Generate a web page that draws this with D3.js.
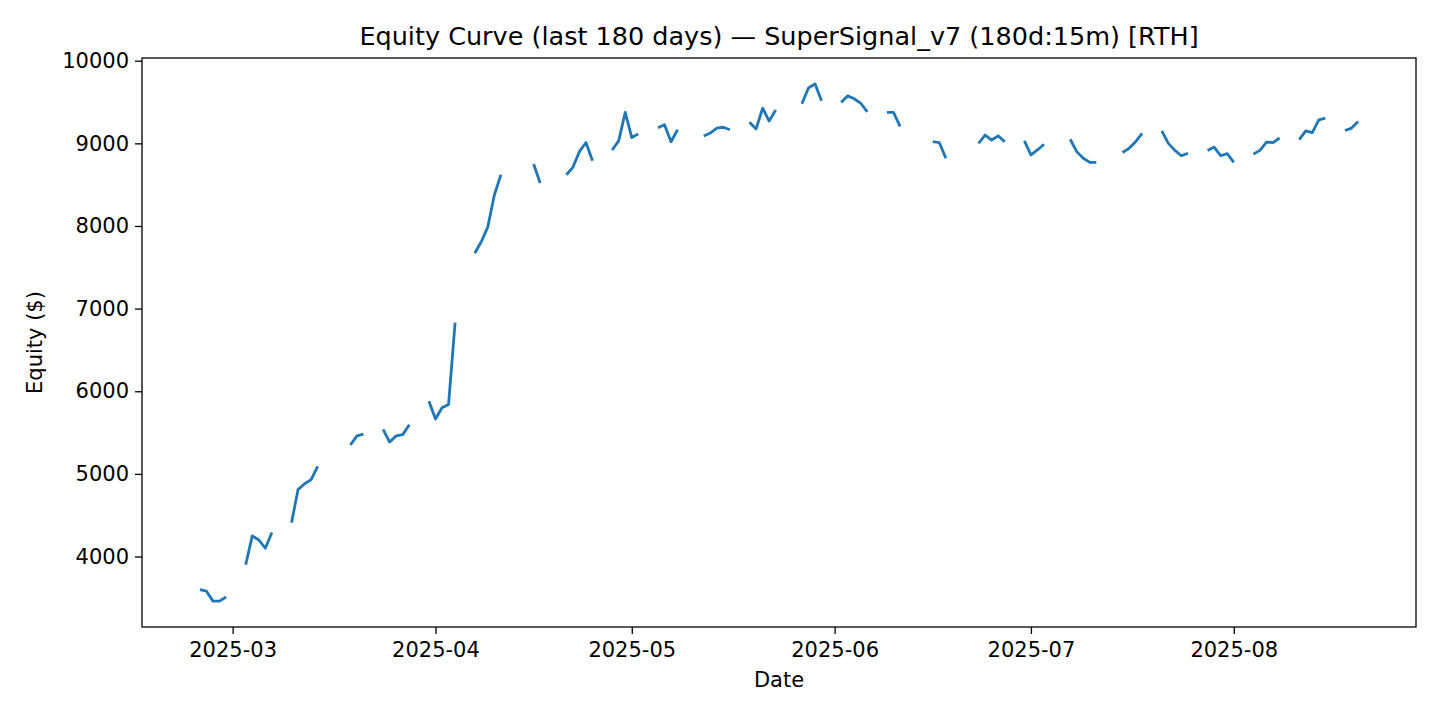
<!DOCTYPE html>
<html>
<head>
<meta charset="utf-8">
<script src="https://cdn.jsdelivr.net/npm/d3@7"></script>
<style>
  body { margin: 0; background: #fff; }
  text { font-family: "DejaVu Sans", sans-serif; }
</style>
</head>
<body>
<svg id="chart" width="1440" height="720"></svg>
<script>
// each run of trading days starts on segStarts[i] and holds segValues[i] (one value per weekday)
var segStarts = ["2025-02-24","2025-03-03","2025-03-10","2025-03-19","2025-03-24","2025-03-31","2025-04-07",
  "2025-04-16","2025-04-21","2025-04-28","2025-05-05","2025-05-12","2025-05-19","2025-05-27","2025-06-02",
  "2025-06-09","2025-06-16","2025-06-23","2025-06-30","2025-07-07","2025-07-15","2025-07-21","2025-07-28",
  "2025-08-04","2025-08-11","2025-08-18"];
var segValues = [
  [3600, 3580, 3460, 3460, 3510],
  [3900, 4250, 4200, 4100, 4290],
  [4410, 4810, 4880, 4930, 5090],
  [5350, 5460, 5480],
  [5540, 5385, 5460, 5475, 5595],
  [5880, 5665, 5800, 5840, 6830],
  [7670, 7810, 7990, 8375, 8620],
  [8750, 8520],
  [8620, 8710, 8900, 9010, 8790],
  [8920, 9030, 9375, 9070, 9115],
  [9190, 9225, 9020, 9165],
  [9090, 9125, 9185, 9195, 9165],
  [9255, 9175, 9425, 9270, 9405],
  [9480, 9670, 9720, 9515],
  [9495, 9575, 9540, 9485, 9380],
  [9375, 9375, 9205],
  [9020, 9010, 8820],
  [9000, 9100, 9040, 9090, 9020],
  [9030, 8860, 8920, 8990],
  [9050, 8900, 8820, 8770, 8770],
  [8890, 8940, 9020, 9120],
  [9150, 9000, 8915, 8850, 8880],
  [8915, 8955, 8850, 8875, 8770],
  [8870, 8915, 9015, 9010, 9065],
  [9045, 9150, 9130, 9285, 9305],
  [9155, 9185, 9265]
];
var yTicks = [4000, 5000, 6000, 7000, 8000, 9000, 10000];
var xTicks = ["2025-03-01","2025-04-01","2025-05-01","2025-06-01","2025-07-01","2025-08-01"];

var parse = d3.utcParse("%Y-%m-%d");
var byDay = new Map();
segStarts.forEach(function(s, i){
  segValues[i].forEach(function(v, j){
    byDay.set(+d3.utcDay.offset(parse(s), j), v);
  });
});
var first = parse(segStarts[0]);
var last = d3.max(Array.from(byDay.keys()));
var data = d3.utcDay.range(first, d3.utcDay.offset(new Date(last), 1)).map(function(d){
  return {date: d, value: byDay.has(+d) ? byDay.get(+d) : null};
});

var margin = {left: 142, right: 24, top: 58, bottom: 93};
var W = 1440, H = 720;
var svg = d3.select("#chart");

var span = last - first;
var x = d3.scaleUtc().domain([+first - span*0.05, +last + span*0.05]).range([margin.left, W - margin.right]);
var vmin = 3460, vmax = 9720, pad = (vmax - vmin)*0.05;
var y = d3.scaleLinear().domain([vmin - pad, vmax + pad]).range([H - margin.bottom, margin.top]);

var line = d3.line().defined(function(d){ return d.value !== null; })
  .x(function(d){ return x(d.date); }).y(function(d){ return y(d.value); });

svg.append("path").datum(data).attr("d", line)
  .attr("fill", "none").attr("stroke", "#1f77b4").attr("stroke-width", 2.8)
  .attr("stroke-linejoin", "round").attr("stroke-linecap", "butt");

var xAxis = svg.append("g").attr("transform", "translate(0," + (H - margin.bottom) + ")")
  .call(d3.axisBottom(x).tickValues(xTicks.map(parse)).tickFormat(d3.utcFormat("%Y-%m")).tickSizeOuter(0).tickSize(7).tickPadding(8));
var yAxis = svg.append("g").attr("transform", "translate(" + margin.left + ",0)")
  .call(d3.axisLeft(y).tickValues(yTicks).tickFormat(d3.format("d")).tickSizeOuter(0).tickSize(7).tickPadding(6));
[xAxis, yAxis].forEach(function(g){
  g.select(".domain").remove();
  g.selectAll("text").attr("font-size", 21).attr("fill", "#000").style("font-family", "DejaVu Sans");
  g.selectAll("line").attr("stroke", "#000").attr("stroke-width", 1.3);
});

svg.append("rect").attr("x", margin.left).attr("y", margin.top)
  .attr("width", W - margin.left - margin.right).attr("height", H - margin.top - margin.bottom)
  .attr("fill", "none").attr("stroke", "#000").attr("stroke-width", 1.3);

svg.append("text").attr("x", (margin.left + W - margin.right)/2).attr("y", 45)
  .attr("text-anchor", "middle").attr("font-size", 25.5).text("Equity Curve (last 180 days) — SuperSignal_v7 (180d:15m) [RTH]");
svg.append("text").attr("x", (margin.left + W - margin.right)/2).attr("y", 687)
  .attr("text-anchor", "middle").attr("font-size", 21).text("Date");
svg.append("text").attr("transform", "translate(42," + ((margin.top + H - margin.bottom)/2) + ") rotate(-90)")
  .attr("text-anchor", "middle").attr("font-size", 21).text("Equity ($)");
</script>
</body>
</html>
